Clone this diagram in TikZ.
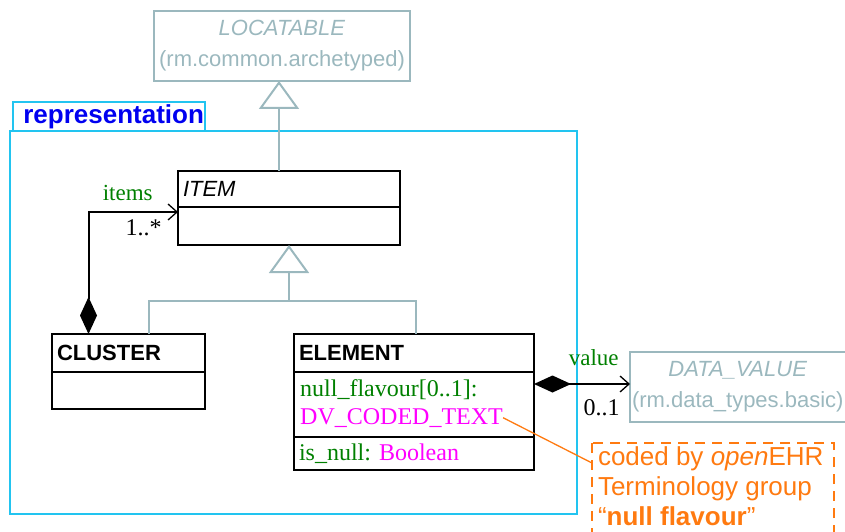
\documentclass[tikz,border=0pt]{standalone}
\usepackage{fontspec}
\setmainfont{Liberation Serif}
\setsansfont{Liberation Sans}
\usetikzlibrary{positioning, calc, arrows.meta}
\definecolor{umlgray}{HTML}{9BB8BE}
\definecolor{pkgcyan}{HTML}{22C4F0}
\definecolor{pkgblue}{HTML}{0000F0}
\definecolor{attrgreen}{HTML}{008000}
\definecolor{typemag}{HTML}{FF00FF}
\definecolor{noteorange}{HTML}{FF7A10}
\tikzset{classpart/.style={draw=black, line width=1.3pt, rectangle, outer sep=0pt, inner xsep=5pt, inner ysep=0pt, align=left, font=\sffamily\fontsize{22}{24}\selectfont}}
\tikzset{classname/.style={font=\sffamily\bfseries\fontsize{22}{24}\selectfont}}
\tikzset{attrtext/.style={text=attrgreen, font=\fontsize{24}{28}\selectfont}}
\tikzset{extclass/.style={draw=umlgray, line width=2pt, text=umlgray, align=center, inner sep=2pt, outer sep=0pt, font=\sffamily\fontsize{22}{31}\selectfont}}
\tikzset{gen/.style={draw=umlgray, line width=2pt, -{Triangle[open, length=28pt, width=40pt]}}}
\tikzset{genline/.style={draw=umlgray, line width=2pt}}
\tikzset{comp/.style={line width=2pt, {Diamond[length=37pt, width=17pt]}-{Straight Barb[length=9pt, width=16pt, line width=1.3pt]}}}
\tikzset{rolename/.style={text=attrgreen, font=\fontsize{23}{24}\selectfont}}
\tikzset{mult/.style={font=\fontsize{24}{24}\selectfont}}
\tikzset{notebox/.style={draw=noteorange, line width=2pt, dash pattern=on 10pt off 7pt}}

\begin{document}
\begin{tikzpicture}[x=1pt, y=-1pt]
  \useasboundingbox (0,0) rectangle (845,532);

  \node[draw=pkgcyan, line width=2pt, outer sep=0pt, minimum width=567pt, minimum height=383pt, anchor=north west] (pkg) at (10,131) {};
  \node[draw=pkgcyan, line width=2pt, outer sep=0pt, text width=180pt, inner xsep=6pt, minimum height=29pt, inner ysep=0pt, align=left, anchor=south west, text=pkgblue, font=\sffamily\bfseries\fontsize{26}{28}\selectfont] (pkgtab) at ([xshift=3pt]pkg.north west) {\,representation};

  \node[extclass, minimum width=256pt, minimum height=70pt, anchor=north west] (locatable) at (154,11) {\textit{LOCATABLE}\\(rm.common.archetyped)};
  \node[extclass, minimum width=214pt, minimum height=70pt, anchor=north west] (datavalue) at (630,352) {\textit{DATA\_VALUE}\\(rm.data\_types.basic)};

  \node[classpart, text width=212pt, minimum height=36pt, anchor=north west] (itemhead) at (178,171) {\textit{ITEM}};
  \node[classpart, text width=212pt, minimum height=38pt, below=0pt of itemhead] (itembody) {};

  \node[classpart, classname, text width=143pt, minimum height=38pt, anchor=north west] (clusterhead) at (52,334) {CLUSTER};
  \node[classpart, text width=143pt, minimum height=37pt, below=0pt of clusterhead] (clusterbody) {};

  \node[classpart, classname, text width=230pt, minimum height=38pt, anchor=north west] (elemhead) at (294,334) {ELEMENT};
  \node[classpart, text width=230pt, minimum height=65pt, below=0pt of elemhead] (elemattr) {};
  \node[classpart, attrtext, text width=230pt, minimum height=33pt, below=0pt of elemattr] (elemnull) {is\_null:\ \textcolor{typemag}{Boolean}};
  \node[attrtext, inner sep=0pt, anchor=north west] (nullfl) at ([xshift=6pt, yshift=-7pt]elemattr.north west) {null\_flavour[0..1]:};
  \node[attrtext, text=typemag, inner sep=0pt, anchor=base west] (dvtext) at ([yshift=-28pt]nullfl.base west) {DV\_CODED\_TEXT};

  \node[text=noteorange, align=left, inner xsep=6pt, inner ysep=4pt, outer sep=0pt, anchor=north west, font=\sffamily\fontsize{26}{30}\selectfont] (note) at (592,443) {coded by \textit{open}EHR\\Terminology group\\“\textbf{null flavour}”};
  \draw[notebox] (note.north west) rectangle ([xshift=242pt, yshift=-112pt]note.north west);

  \draw[gen] ([xshift=-3pt]itemhead.north -| locatable.south) -- ([xshift=-3pt]locatable.south);
  \coordinate (genjoin) at ($(itembody.south)+(0,56)$);
  \draw[gen] (genjoin) -- (itembody.south);
  \draw[genline] ([xshift=20pt]clusterhead.north) |- (genjoin) -| ([xshift=2pt]elemhead.north);

  \coordinate (itemsend) at ([yshift=-5pt]itembody.north west);
  \draw[comp] ([xshift=-40pt]clusterhead.north) |- (itemsend)
    node[rolename, pos=1, anchor=base east, xshift=-21pt, yshift=12pt] {items}
    node[mult, pos=1, anchor=base east, xshift=-12pt, yshift=-23pt] {1..*};

  \coordinate (valstart) at ([yshift=-12pt]elemattr.north east);
  \draw[comp] (valstart) -- (valstart -| datavalue.west)
    node[rolename, pos=1, anchor=base east, xshift=-7pt, yshift=19pt] {value}
    node[mult, pos=1, anchor=base east, xshift=-6pt, yshift=-31pt] {0..1};

  \draw[draw=noteorange, line width=1.3pt] (dvtext.east) -- ([yshift=-20pt]note.north west);
\end{tikzpicture}
\end{document}
